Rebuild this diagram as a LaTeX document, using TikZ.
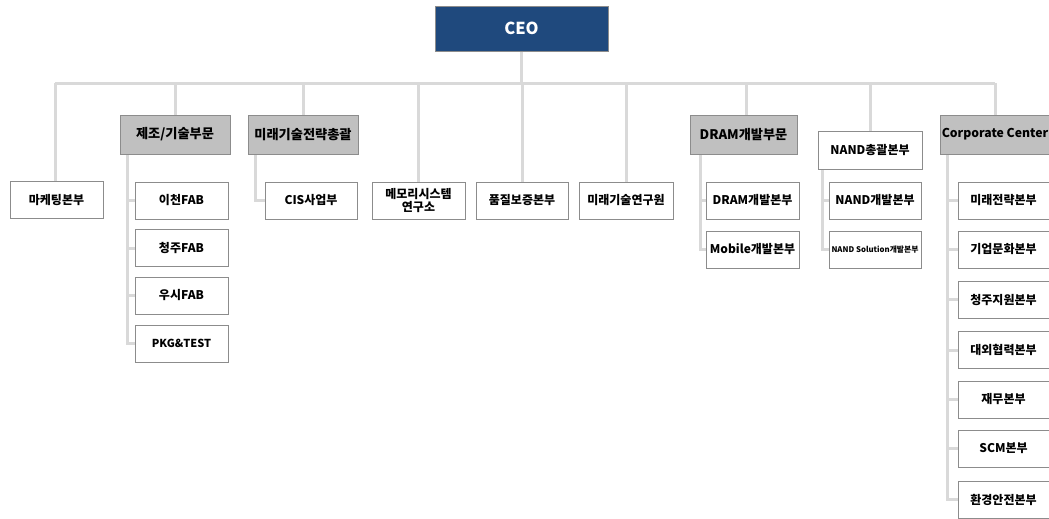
\documentclass[tikz,border=0pt]{standalone}
\usepackage{fontspec}
\setmainfont{Noto Sans CJK KR}
\usetikzlibrary{backgrounds}
\begin{document}
\begin{tikzpicture}[x=1pt,y=-1pt,
  conn/.style={draw=linegray, line width=3pt},
  box/.style={draw=boxgray, line width=0.9pt, fill=white, inner sep=0pt, align=center,
    font=\fontsize{12}{13}\selectfont\bfseries, text=black},
  leaf/.style={box, minimum width=93pt, minimum height=37pt},
  head/.style={box, fill=headgray, minimum width=110pt, minimum height=39pt,
    font=\fontsize{13.2}{14}\selectfont\bfseries},
  ceobox/.style={box, fill=ceoblue, minimum width=173pt, minimum height=45pt,
    text=white, font=\fontsize{16.5}{18}\selectfont\bfseries}]
\definecolor{linegray}{HTML}{D9D9D9}
\definecolor{boxgray}{HTML}{8C8C8C}
\definecolor{headgray}{HTML}{C0C0C0}
\definecolor{ceoblue}{HTML}{1F497D}
\useasboundingbox (0,0) rectangle (1049,519);

% nodes
\node[ceobox] (ceo) at (521.5,28.5) {CEO};
\coordinate (bus) at (521.5,83);

\node[leaf] (mkt) at (56.5,200) {마케팅본부};
\node[head] (jejo) at (175,134.5) {제조/기술부문};
\node[head] (strat) at (303,134.5) {미래기술전략총괄};
\node[leaf, font=\fontsize{12}{12.5}\selectfont\bfseries] (memsys) at (418.5,200.5) {메모리시스템\\연구소};
\node[leaf, minimum width=92pt] (qa) at (522,200.5) {품질보증본부};
\node[leaf, minimum width=94pt] (lab) at (626,200.5) {미래기술연구원};
\node[head, minimum width=107pt] (dram) at (743.5,134.5) {DRAM개발부문};
\node[box, minimum width=104pt, minimum height=38pt] (nand) at (870,150.5) {NAND총괄본부};
\node[head, minimum width=110pt, font=\fontsize{12.2}{13}\selectfont\bfseries] (cc) at (995,134.5) {Corporate Center};

\node[leaf] (icheon) at (181.5,200.5) {이천FAB};
\node[leaf] (cheongju) at (181.5,248) {청주FAB};
\node[leaf] (wuxi) at (181.5,295.5) {우시FAB};
\node[leaf, font=\fontsize{11}{12}\selectfont\bfseries] (pkg) at (181.5,343.5) {PKG\&TEST};

\node[leaf, minimum width=92pt] (cis) at (311,200.5) {CIS사업부};

\node[leaf] (dramdev) at (752.5,200.5) {DRAM개발본부};
\node[leaf] (mobile) at (752.5,249.5) {Mobile개발본부};

\node[leaf, minimum width=92pt] (nanddev) at (875,200.5) {NAND개발본부};
\node[leaf, minimum width=92pt, font=\fontsize{7.8}{8}\selectfont\bfseries] (nandsol) at (875,249.5) {NAND Solution개발본부};

\node[leaf, minimum width=91pt] (c1) at (1003.5,200.5) {미래전략본부};
\node[leaf, minimum width=91pt] (c2) at (1003.5,249.5) {기업문화본부};
\node[leaf, minimum width=91pt] (c3) at (1003.5,299.5) {청주지원본부};
\node[leaf, minimum width=91pt] (c4) at (1003.5,350) {대외협력본부};
\node[leaf, minimum width=91pt] (c5) at (1003.5,399.5) {재무본부};
\node[leaf, minimum width=91pt] (c6) at (1003.5,448.5) {SCM본부};
\node[leaf, minimum width=91pt] (c7) at (1003.5,499.5) {환경안전본부};

% connectors
\begin{pgfonlayer}{background}
\fill[white] (0,0) rectangle (1049,519);
\path[conn] (ceo.south) -- (bus);
\path[conn] ([xshift=-1.5pt]mkt.north |- bus) -- (cc.north |- bus);
\path[conn] ([xshift=-1.5pt]mkt.north |- bus) -- ([xshift=-1.5pt]mkt.north);
\foreach \n in {jejo,strat,memsys,qa,lab,nand,cc}{
  \path[conn] (\n.north |- bus) -- (\n.north);
}
\path[conn] ([xshift=2.5pt]dram.north |- bus) -- ([xshift=2.5pt]dram.north);

\foreach \c in {icheon,cheongju,wuxi,pkg}{
  \path[conn] ([xshift=8pt]jejo.south west) |- (\c.west);
}
\path[conn] ([xshift=8pt]strat.south west) |- (cis.west);
\foreach \c in {dramdev,mobile}{
  \path[conn] ([xshift=11pt]dram.south west) |- (\c.west);
}
\foreach \c in {nanddev,nandsol}{
  \path[conn] ([xshift=5pt]nand.south west) |- (\c.west);
}
\foreach \c in {c1,c2,c3,c4,c5,c6,c7}{
  \path[conn] ([xshift=8pt]cc.south west) |- (\c.west);
}
\end{pgfonlayer}
\end{tikzpicture}
\end{document}
